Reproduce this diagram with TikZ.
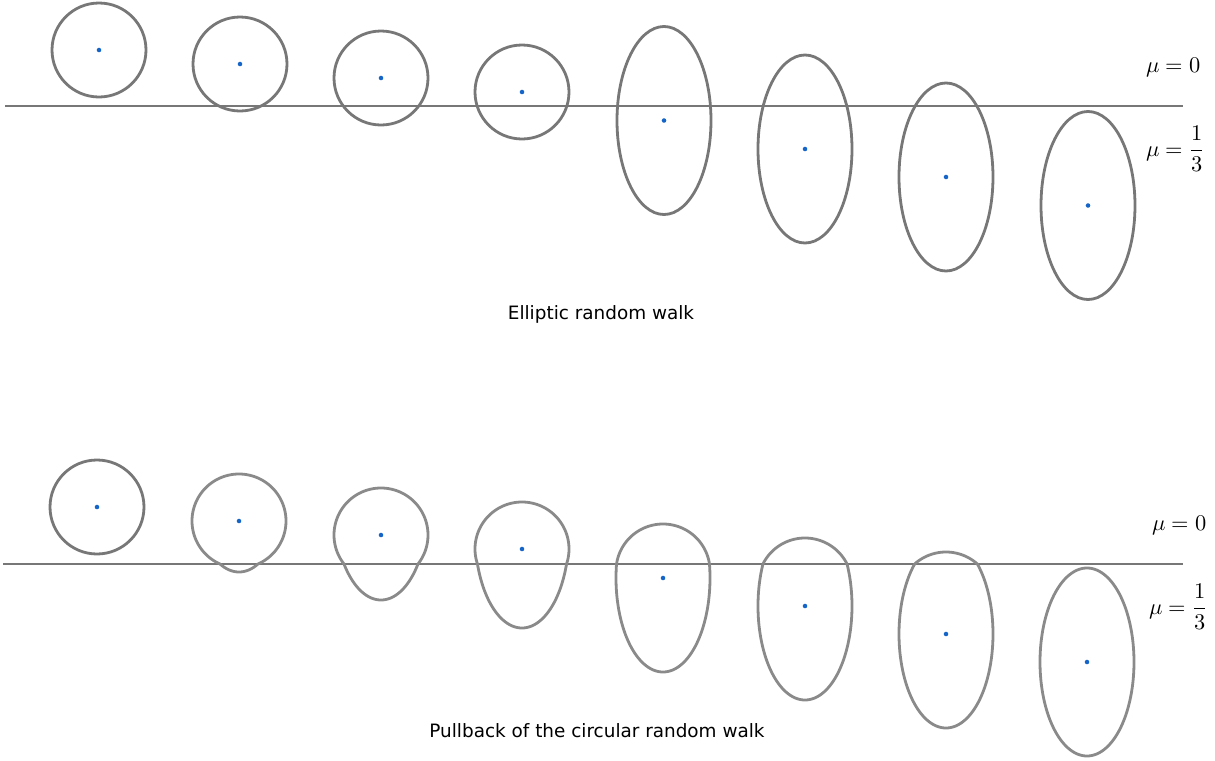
\documentclass[tikz,border=0pt]{standalone}
\usepackage{fontspec}
\setmainfont{DejaVu Sans}
\usepackage{amsmath}
\usepackage{unicode-math}
\setmathfont{Latin Modern Math}
\definecolor{shapegray}{HTML}{777777}
\definecolor{pullgray}{HTML}{8A8A8A}
\definecolor{linegray}{HTML}{777777}
\definecolor{dotblue}{HTML}{1565C8}
\begin{document}
\begin{tikzpicture}[x=0.75pt,y=-0.75pt,
  shapeline/.style={draw=shapegray,line width=2.1pt},
  pullline/.style={draw=pullgray,line width=2.1pt},
  levelline/.style={draw=linegray,line width=2.1pt},
  centerdot/.style={fill=dotblue,draw=none,circle,inner sep=0pt,minimum size=3.4pt},
  caption/.style={font=\fontsize{13.8}{16}\selectfont,inner sep=0pt},
  mulabel/.style={font=\fontsize{16.8}{20}\selectfont,inner sep=0pt}]
\useasboundingbox (0,0) rectangle (1215,761);
% ---------- top panel: elliptic random walk ----------
\coordinate (tl0) at (5,106);
\coordinate (tl1) at (1183,106);
\draw[levelline] (tl0) -- (tl1);
\foreach \i/\cx/\cy in {1/99/50,2/240/64,3/381/78,4/522/92}{
  \node[centerdot] (tc\i) at (\cx,\cy) {};
  \draw[shapeline] (tc\i.center) circle[x radius=47,y radius=47];
}
\foreach \i/\cx/\cy in {5/664/120.5,6/805/149,7/946/177,8/1088/205.5}{
  \node[centerdot] (tc\i) at (\cx,\cy) {};
  \draw[shapeline] (tc\i.center) ellipse[x radius=47,y radius=94];
}
\node[mulabel,anchor=west] (tmu0) at (1146,67) {$\mu=0$};
\node[mulabel,anchor=west] (tmu1) at (1146,149) {$\mu=\dfrac{1}{3}$};
\node[caption] (tcap) at (601,314) {Elliptic random walk};
% ---------- bottom panel: pullback of the circular random walk ----------
\coordinate (bl0) at (3,564);
\coordinate (bl1) at (1183,564);
\draw[levelline] (bl0) -- (bl1);
\node[centerdot] (bc1) at (97,507) {};
\draw[shapeline] (bc1.center) circle[x radius=47,y radius=47];
\foreach \i/\cx/\cy in {2/239/521,3/381/535,4/522/549,5/663/571,6/805/585,7/946/599,8/1087/613}{
  \pgfmathsetmacro{\dy}{\cy+max(\cy-564,0)}
  \node[centerdot] (bc\i) at (\cx,\dy) {};
  \draw[pullline] plot[domain=0:360,samples=240,variable=\t]
    ({\cx+47*cos(\t)},{\cy+47*sin(\t)+max(\cy+47*sin(\t)-564,0)}) -- cycle;
}
\node[mulabel,anchor=west] (bmu0) at (1152,525) {$\mu=0$};
\node[mulabel,anchor=west] (bmu1) at (1149,607) {$\mu=\dfrac{1}{3}$};
\node[caption] (bcap) at (597,731) {Pullback of the circular random walk};
\end{tikzpicture}
\end{document}
